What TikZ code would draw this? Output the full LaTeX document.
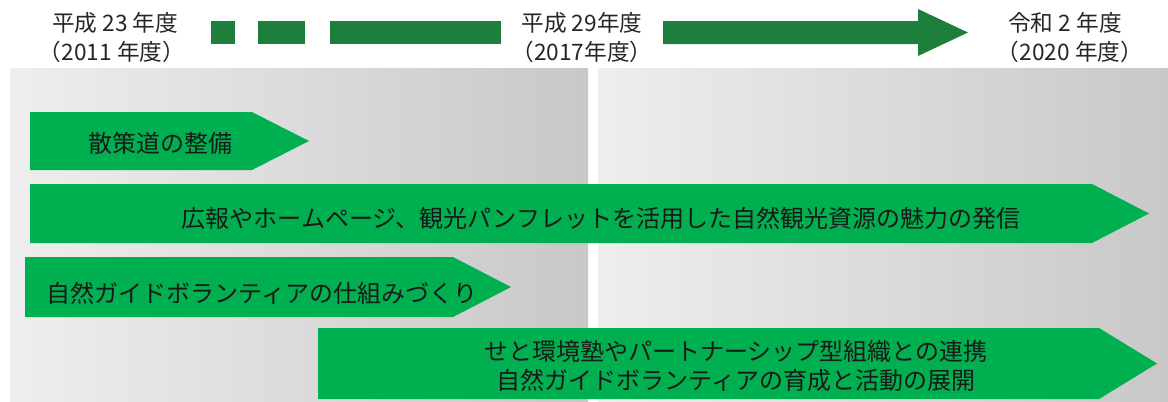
\documentclass[tikz,border=0pt]{standalone}
\usepackage{fontspec}
\newfontfamily\jpfont{Noto Sans CJK JP}
\usetikzlibrary{positioning}
\definecolor{phasegreen}{HTML}{00B050}
\definecolor{linegreen}{HTML}{1E7E3C}
\definecolor{panelL}{HTML}{EEEEEE}
\definecolor{panelR}{HTML}{C8C8C8}

\begin{document}
\begin{tikzpicture}[
  x=0.75pt, y=-0.75pt,
  year/.style={font=\jpfont\fontsize{17}{20}\selectfont, text=black!85,
               inner sep=0pt},
  task/.style={font=\jpfont\fontsize{18}{21.75}\selectfont, text=black!90,
               inner sep=0pt, align=center},
  phase/.style={fill=phasegreen},
  bar/.style={fill=linegreen}
]
\useasboundingbox (0,0) rectangle (1168,401);
% background panels
\shade[left color=panelL, right color=panelR] (10,68) rectangle (588,401);
\shade[left color=panelL, right color=panelR] (598,68) rectangle (1168,401);

% years along the top
\node[year] (h23) at (115,23) {平成 23 年度};
\node[year] (h23b) at (112,52) {（2011 年度）};
\node[year] (h29) at (582,23) {平成 29年度};
\node[year] (h29b) at (582,52) {（2017年度）};
\node[year] (r2) at (1065,23) {令和 2 年度};
\node[year] (r2b) at (1070,52) {（2020 年度）};

\fill[bar] (211,21) rectangle (235,44);
\fill[bar] (258,21) rectangle (305,44);
\fill[bar] (330,21) rectangle (501,44);
\fill[bar] (663,21) -- (918,21) -- (918,9) -- (968,32.5) -- (918,56)
  -- (918,44) -- (663,44) -- cycle;

% phase arrows
\fill[phase] (30,112) -- (252,112) -- (309,141) -- (252,170) -- (30,170) -- cycle;
\node[task] (sansaku) at (160,143) {散策道の整備};

\fill[phase] (30,184) -- (1092,184) -- (1149,213.5) -- (1092,243) -- (30,243) -- cycle;
\node[task] (pr) at (601,218)
  {広報やホームページ、観光パンフレットを活用した自然観光資源の魅力の発信};

\fill[phase] (25,257) -- (453,257) -- (511,287) -- (453,317) -- (25,317) -- cycle;
\node[task] (guide) at (262,293) {自然ガイドボランティアの仕組みづくり};

\fill[phase] (318,328) -- (1099,328) -- (1157,363.5) -- (1099,399) -- (318,399) -- cycle;
\node[task] (renkei) at (736,366)
  {せと環境塾やパートナーシップ型組織との連携\\
   自然ガイドボランティアの育成と活動の展開};
\end{tikzpicture}
\end{document}
